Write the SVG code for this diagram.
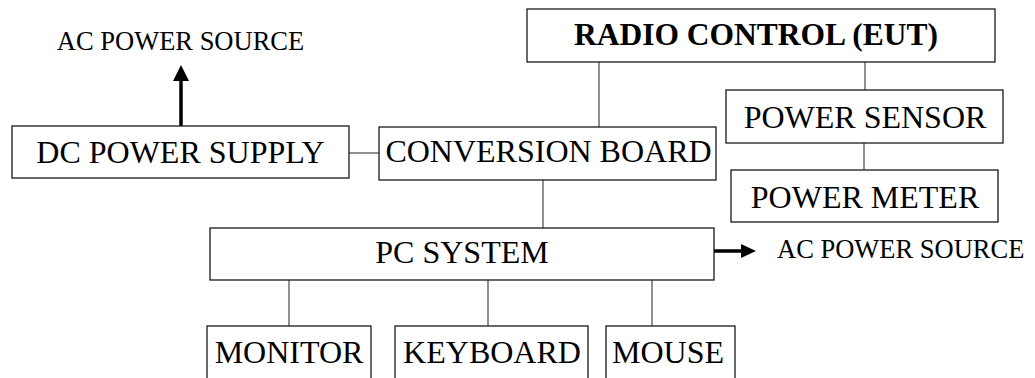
<svg xmlns="http://www.w3.org/2000/svg" width="1035" height="378" viewBox="0 0 1035 378">
<style>
.box{fill:#fff;stroke:#1a1a1a;stroke-width:1.3}
.t{font-family:"Liberation Serif","Times New Roman",serif;font-size:32px;fill:#000;text-anchor:middle}
.b{font-weight:bold;font-size:31.5px}
.s{font-family:"Liberation Serif","Times New Roman",serif;font-size:26.5px;fill:#000}
.ln{stroke:#555;stroke-width:1.3;fill:none}
.ar{stroke:#000;stroke-width:3.5;fill:none}
.ah{fill:#000}
</style>
<rect width="1035" height="378" fill="#fff"/>
<g id="connectors">
<line class="ln" x1="349" y1="153" x2="379" y2="153"/>
<line class="ln" x1="599" y1="62" x2="599" y2="127"/>
<line class="ln" x1="865" y1="62" x2="865" y2="90"/>
<line class="ln" x1="864" y1="143" x2="864" y2="170"/>
<line class="ln" x1="543" y1="180" x2="543" y2="228"/>
<line class="ln" x1="289" y1="280" x2="289" y2="326"/>
<line class="ln" x1="488" y1="280" x2="488" y2="326"/>
<line class="ln" x1="652" y1="280" x2="652" y2="326"/>
<line class="ar" x1="181" y1="126" x2="181" y2="80"/>
<polygon class="ah" points="173,81 189,81 181,65"/>
<line class="ar" x1="714" y1="251" x2="742" y2="251"/>
<polygon class="ah" points="741,244 741,258 756,251"/>
</g>
<g id="ac-source-top"><text class="s" x="180.5" y="50" text-anchor="middle">AC POWER SOURCE</text></g>
<g id="ac-source-right"><text class="s" x="777" y="257.5">AC POWER SOURCE</text></g>
<g id="dc-power-supply"><rect class="box" x="12" y="126" width="337" height="52"/><text class="t" x="180.5" y="162.7">DC POWER SUPPLY</text></g>
<g id="conversion-board"><rect class="box" x="379" y="127" width="337" height="53"/><text class="t" x="548.5" y="162.3">CONVERSION BOARD</text></g>
<g id="radio-control"><rect class="box" x="527" y="9" width="468" height="53"/><text class="t b" x="756" y="45">RADIO CONTROL (EUT)</text></g>
<g id="power-sensor"><rect class="box" x="726" y="90" width="277" height="53"/><text class="t" x="865" y="128">POWER SENSOR</text></g>
<g id="power-meter"><rect class="box" x="731" y="170" width="267" height="52"/><text class="t" x="865" y="207.7">POWER METER</text></g>
<g id="pc-system"><rect class="box" x="210" y="228" width="504" height="52"/><text class="t" x="462" y="263.3">PC SYSTEM</text></g>
<g id="monitor"><rect class="box" x="207" y="326" width="164" height="70"/><text class="t" x="289" y="363.3">MONITOR</text></g>
<g id="keyboard"><rect class="box" x="395" y="326" width="193" height="70"/><text class="t" x="492" y="363.3">KEYBOARD</text></g>
<g id="mouse"><rect class="box" x="606" y="326" width="129" height="70"/><text class="t" x="668" y="363.3">MOUSE</text></g>
</svg>
